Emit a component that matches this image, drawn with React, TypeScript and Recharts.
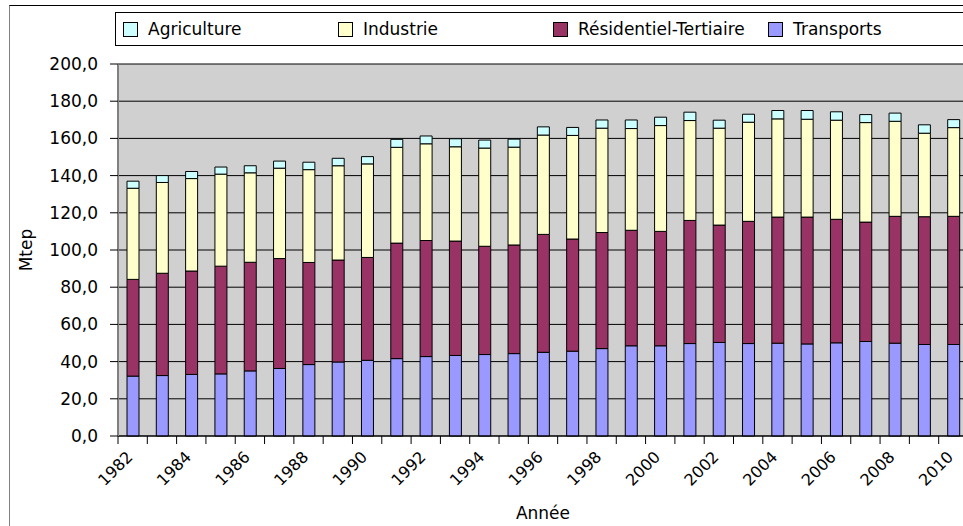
import { BarChart, Bar, XAxis, YAxis, CartesianGrid, Legend } from "recharts";

const years = [
  "1982", "1983", "1984", "1985", "1986", "1987", "1988", "1989", "1990", "1991",
  "1992", "1993", "1994", "1995", "1996", "1997", "1998", "1999", "2000", "2001",
  "2002", "2003", "2004", "2005", "2006", "2007", "2008", "2009", "2010",
];

const transports = [
  32.2, 32.5, 33.1, 33.4, 35.0, 36.3, 38.4, 39.8, 40.7, 41.6,
  42.7, 43.3, 43.8, 44.3, 45.0, 45.6, 47.0, 48.5, 48.5, 49.7,
  50.3, 49.7, 49.9, 49.5, 50.1, 50.8, 49.9, 49.2, 49.2,
];

const residentiel = [
  52.0, 55.0, 55.6, 57.9, 58.4, 59.1, 54.9, 54.8, 55.3, 62.1,
  62.4, 61.5, 58.2, 58.4, 63.4, 60.3, 62.4, 62.1, 61.5, 66.2,
  63.1, 65.7, 67.8, 68.2, 66.4, 64.2, 68.2, 68.7, 68.9,
];

const industrie = [
  49.0, 48.8, 49.7, 49.5, 48.1, 48.6, 49.9, 50.7, 50.3, 51.5,
  52.0, 50.7, 52.8, 52.6, 53.4, 55.7, 56.1, 54.7, 56.9, 53.7,
  52.1, 53.3, 52.8, 52.6, 53.3, 53.5, 51.1, 44.9, 47.7,
];

const agriculture = [
  3.8, 3.7, 3.8, 3.8, 3.8, 3.8, 4.0, 4.0, 3.9, 4.3,
  4.2, 4.3, 4.3, 4.3, 4.4, 4.3, 4.4, 4.6, 4.5, 4.5,
  4.3, 4.3, 4.5, 4.7, 4.5, 4.3, 4.4, 4.5, 4.3,
];

const yTicks = [0, 20, 40, 60, 80, 100, 120, 140, 160, 180, 200];

// stacking order, bottom to top
const series = [
  { key: "transports", name: "Transports", color: "#9999FF" },
  { key: "residentiel", name: "Résidentiel-Tertiaire", color: "#993366" },
  { key: "industrie", name: "Industrie", color: "#FFFFCC" },
  { key: "agriculture", name: "Agriculture", color: "#CCFFFF" },
];

const data = years.map((year, i) => ({
  year,
  transports: transports[i],
  residentiel: residentiel[i],
  industrie: industrie[i],
  agriculture: agriculture[i],
}));

const FONT = "'DejaVu Sans', Verdana, sans-serif";
const CHART_W = 1000;
const CHART_H = 526;
const PLOT_LEFT = 118;
const PLOT_RIGHT = 968;
const BAND = (PLOT_RIGHT - PLOT_LEFT) / years.length;

function YearTick(props: any) {
  const { x, y, payload, index } = props;
  const axisY = y - 8;
  const left = x - BAND / 2;
  const labelX = x - 3;
  const labelY = axisY + 18;
  const showLabel = Number(payload.value) % 2 === 0;
  return (
    <g>
      <line x1={left} y1={axisY} x2={left} y2={axisY + 8} stroke="#000" />
      {index === years.length - 1 && (
        <line x1={x + BAND / 2} y1={axisY} x2={x + BAND / 2} y2={axisY + 8} stroke="#000" />
      )}
      {showLabel && (
        <text
          x={labelX}
          y={labelY}
          dy="0.35em"
          textAnchor="end"
          transform={`rotate(-45 ${labelX} ${labelY})`}
          fontSize={16}
          fontFamily={FONT}
          fill="#000"
        >
          {payload.value}
        </text>
      )}
    </g>
  );
}

function LegendBox() {
  const items = [...series].reverse();
  return (
    <div
      style={{
        position: "relative",
        width: "100%",
        height: 34,
        boxSizing: "border-box",
        border: "1px solid #000",
        background: "#fff",
        fontFamily: FONT,
        fontSize: 17,
      }}
    >
      {items.map((s, i) => (
        <div
          key={s.key}
          style={{
            position: "absolute",
            left: 7 + i * 215,
            top: 0,
            height: 32,
            display: "flex",
            alignItems: "center",
            whiteSpace: "nowrap",
          }}
        >
          <span
            style={{
              display: "inline-block",
              width: 13,
              height: 13,
              border: "1px solid #000",
              background: s.color,
              marginRight: 10,
            }}
          />
          <span>{s.name}</span>
        </div>
      ))}
    </div>
  );
}

export default function App() {
  return (
    <div
      style={{
        position: "absolute",
        left: 0,
        top: 0,
        width: 963,
        height: 526,
        overflow: "hidden",
        background: "#fff",
        fontFamily: FONT,
      }}
    >
      <div
        style={{
          position: "absolute",
          left: 9,
          top: 5,
          width: 1100,
          height: 600,
          borderTop: "1px solid #000",
          borderLeft: "1px solid #808080",
        }}
      />
      <div style={{ position: "absolute", left: 0, top: 0 }}>
        <BarChart
          width={CHART_W}
          height={CHART_H}
          data={data}
          margin={{ top: 64, right: CHART_W - PLOT_RIGHT, bottom: 0, left: 0 }}
        >
          <CartesianGrid vertical={false} stroke="#000" fill="#D0D0D0" fillOpacity={1} />
          <XAxis
            dataKey="year"
            interval={0}
            height={90}
            tickSize={8}
            tickMargin={0}
            tickLine={false}
            axisLine={{ stroke: "#000" }}
            tick={<YearTick />}
            label={{
              value: "Année",
              position: "insideBottom",
              offset: 7,
              fontSize: 17,
              fontFamily: FONT,
              fill: "#000",
            }}
          />
          <YAxis
            width={PLOT_LEFT}
            domain={[0, 200]}
            ticks={yTicks}
            interval={0}
            tickSize={8}
            tickMargin={12}
            axisLine={{ stroke: "#808080", strokeWidth: 2 }}
            tickLine={{ stroke: "#000" }}
            tickFormatter={(v: number) => v.toFixed(1).replace(".", ",")}
            tick={{ fontSize: 17, fontFamily: FONT, fill: "#000" }}
            label={{
              value: "Mtep",
              angle: -90,
              position: "insideLeft",
              offset: 26,
              fontSize: 17,
              fontFamily: FONT,
              fill: "#000",
              style: { textAnchor: "middle" },
            }}
          />
          <Legend
            verticalAlign="middle"
            align="center"
            layout="horizontal"
            wrapperStyle={{ top: 12, left: 115, width: 900, height: 34 }}
            content={() => <LegendBox />}
          />
          {series.map((s) => (
            <Bar
              key={s.key}
              dataKey={s.key}
              name={s.name}
              stackId="total"
              fill={s.color}
              stroke="#000"
              strokeWidth={1}
              barSize={12}
              isAnimationActive={false}
            />
          ))}
        </BarChart>
      </div>
    </div>
  );
}
